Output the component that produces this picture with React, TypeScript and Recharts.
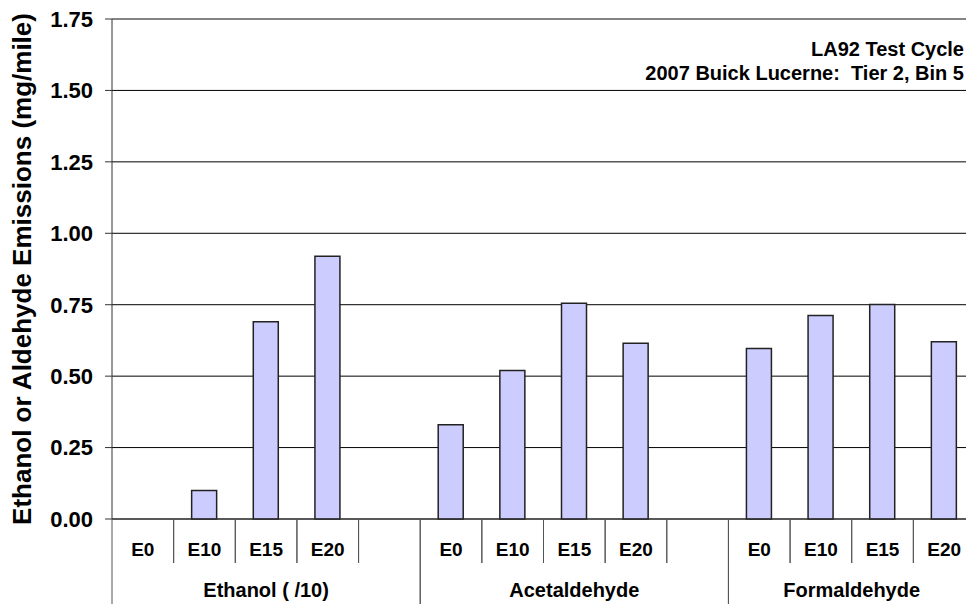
import React from 'react';
import { BarChart, Bar, XAxis, YAxis, CartesianGrid, ReferenceLine, Label } from 'recharts';

const fuels = ['E0', 'E10', 'E15', 'E20'];
const groups = ['Ethanol ( /10)', 'Acetaldehyde', 'Formaldehyde'];
const ethanol = [0, 0.1, 0.69, 0.92];
const acetaldehyde = [0.33, 0.52, 0.755, 0.615];
const formaldehyde = [0.597, 0.712, 0.751, 0.62];
const yTicks = [0, 0.25, 0.5, 0.75, 1.0, 1.25, 1.5, 1.75];

const series = [ethanol, acetaldehyde, formaldehyde];

// one blank slot between groups, like the original sheet
const data: any[] = [];
groups.forEach((g, gi) => {
    fuels.forEach((f, fi) => {
        data.push({ key: `${gi}-${f}`, fuel: f, group: g, gi, first: fi === 0, value: series[gi][fi] });
    });
    if (gi < groups.length - 1) data.push({ key: `${gi}-gap`, fuel: '', group: g, gi, first: false, value: null });
});

const groupSize = (gi: number) => data.filter(d => d.gi === gi).length;

const W = 976;
const H = 604;
const Y_W = 112;
const X_H = 85;
const MARGIN = { top: 19, right: 1, left: 0, bottom: 0 };
const SLOT = (W - MARGIN.left - MARGIN.right - Y_W) / data.length;
const FONT = '"Liberation Sans", Arial, Helvetica, sans-serif';
const SEP = '#555';

const CatTick = (props: any) => {
    const { x, y, index } = props;
    const row = data[index];
    if (!row) return null;
    const left = x - SLOT / 2;
    const right = x + SLOT / 2;
    const isLast = index === data.length - 1;
    const nextFirst = !isLast && data[index + 1].first;
    return (
        <g>
            <line x1={left} x2={left} y1={y} y2={y + (row.first ? X_H : 44)} stroke={SEP} strokeWidth={1} />
            <line x1={right} x2={right} y1={y} y2={y + (isLast || nextFirst ? X_H : 44)} stroke={SEP} strokeWidth={1} />
            <text x={x} y={y + 37} textAnchor="middle" fontFamily={FONT} fontWeight="bold" fontSize={19} fill="#000">
                {row.fuel}
            </text>
            {row.first && (
                <text x={left + (groupSize(row.gi) * SLOT) / 2} y={y + 78} textAnchor="middle" fontFamily={FONT} fontWeight="bold" fontSize={20} fill="#000">
                    {row.group}
                </text>
            )}
        </g>
    );
};

export default function App() {
    return (
        <div style={{ position: 'absolute', left: 0, top: 0, width: 966, height: 604, overflow: 'hidden', background: '#fff' }}>
            <BarChart width={W} height={H} data={data} margin={MARGIN} barSize={25}>
                <CartesianGrid vertical={false} stroke="#000" strokeWidth={1} />
                <ReferenceLine y={1.75} stroke="#888" strokeWidth={1} />
                <XAxis
                    dataKey="key"
                    height={X_H}
                    interval={0}
                    tickLine={false}
                    tickSize={0}
                    tickMargin={0}
                    axisLine={{ stroke: '#333' }}
                    tick={(p: any) => <CatTick {...p} />}
                />
                <YAxis
                    width={Y_W}
                    domain={[0, 1.75]}
                    ticks={yTicks}
                    interval={0}
                    tickFormatter={(v: number) => v.toFixed(2)}
                    tickSize={7}
                    tickMargin={12}
                    tickLine={{ stroke: '#333' }}
                    axisLine={{ stroke: '#333' }}
                    tick={{ fontFamily: FONT, fontWeight: 'bold', fontSize: 22, fill: '#000' }}
                >
                    <Label
                        value="Ethanol or Aldehyde Emissions (mg/mile)"
                        angle={-90}
                        position="insideLeft"
                        offset={22}
                        style={{ textAnchor: 'middle', fontFamily: FONT, fontWeight: 'bold', fontSize: 26, fill: '#000' }}
                    />
                </YAxis>
                <Bar dataKey="value" fill="#CCCCFF" stroke="#222" strokeWidth={1.5} isAnimationActive={false} />
            </BarChart>
            <div
                style={{
                    position: 'absolute',
                    right: 2,
                    top: 37,
                    textAlign: 'right',
                    fontFamily: FONT,
                    fontWeight: 'bold',
                    fontSize: 20,
                    lineHeight: '24px',
                    color: '#000',
                    whiteSpace: 'pre',
                }}
            >
                {'LA92 Test Cycle\n2007 Buick Lucerne:  Tier 2, Bin 5'}
            </div>
        </div>
    );
}
